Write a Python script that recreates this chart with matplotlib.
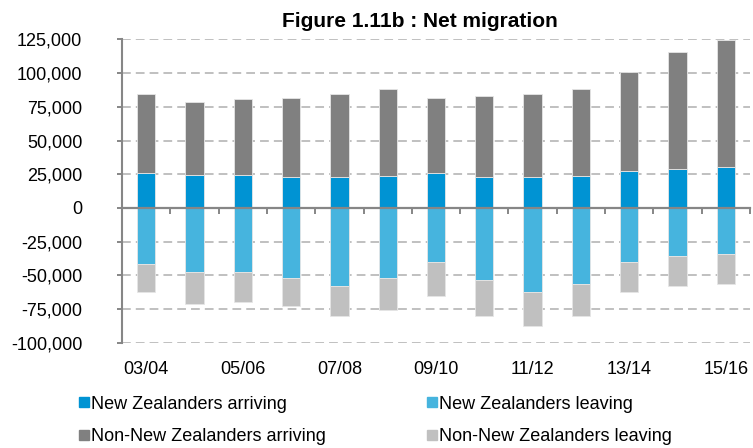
import numpy as np
import matplotlib
matplotlib.use("Agg")
import matplotlib.pyplot as plt
from matplotlib.lines import Line2D
from matplotlib.ticker import FuncFormatter

plt.rcParams["font.family"] = ["Liberation Sans", "DejaVu Sans"]

years = ["03/04", "04/05", "05/06", "06/07", "07/08", "08/09", "09/10",
         "10/11", "11/12", "12/13", "13/14", "14/15", "15/16"]

# arrivals (positive) and departures (negative), people per year
nz_arriving = [25700, 24200, 24200, 22700, 22700, 24000, 25700,
               22700, 22700, 24000, 27200, 28600, 30100]
non_nz_arriving = [58700, 54500, 56300, 59000, 61700, 63900, 56000,
                   60500, 61700, 63900, 74000, 87200, 94600]
nz_leaving = [-41700, -47600, -47600, -52100, -58000, -52100, -40200,
              -53500, -62400, -56400, -40200, -35800, -34300]
non_nz_leaving = [-20700, -23700, -22200, -20700, -22200, -23700, -25200,
                  -26700, -25200, -23800, -22200, -22200, -22100]

labels = ["New Zealanders arriving", "New Zealanders leaving",
          "Non-New Zealanders arriving", "Non-New Zealanders leaving"]
colors = ["#0093D3", "#46B4DE", "#808080", "#C0C0C0"]
axis_grey = "#868686"

x = np.arange(len(years))
w = 0.38

fig = plt.figure(figsize=(7.53, 4.48), dpi=100)
ax = fig.add_axes([0.162, 0.235, 0.834, 0.677])

bar_kw = dict(width=w, edgecolor="#E6E6E6", linewidth=0.6, zorder=3)
ax.bar(x, nz_arriving, color=colors[0], **bar_kw)
ax.bar(x, non_nz_arriving, bottom=nz_arriving, color=colors[2], **bar_kw)
ax.bar(x, nz_leaving, color=colors[1], **bar_kw)
ax.bar(x, non_nz_leaving, bottom=nz_leaving, color=colors[3], **bar_kw)

ax.set_xlim(-0.5, len(years) - 0.5)
ax.set_ylim(-100000, 125000)
ax.set_yticks(np.arange(-100000, 125001, 25000))
ax.yaxis.set_major_formatter(FuncFormatter(lambda v, p: f"{v:,.0f}"))
ax.yaxis.grid(True, color="#C0C0C0", linewidth=1.4,
              linestyle=(0, (4.5, 2.6)), zorder=0)
ax.tick_params(axis="y", direction="out", length=3.6, width=1.4,
               color=axis_grey, pad=25, labelsize=13, labelcolor="black")

# category axis drawn along zero, ticks between the bars
for side in ["top", "right"]:
    ax.spines[side].set_visible(False)
ax.spines["left"].set_color(axis_grey)
ax.spines["left"].set_linewidth(1.5)
ax.spines["bottom"].set_position(("data", 0))
ax.spines["bottom"].set_color(axis_grey)
ax.spines["bottom"].set_linewidth(1.6)
ax.spines["bottom"].set_zorder(4)
ax.set_xticks(x + 0.5)
ax.tick_params(axis="x", direction="out", length=4, width=1.4,
               color=axis_grey, labelbottom=False)

for i in x[::2]:
    ax.text(i, -0.088, years[i], transform=ax.get_xaxis_transform(),
            ha="center", va="center", fontsize=13)

fig.text(0.558, 0.953, "Figure 1.11b : Net migration", ha="center",
         va="center", fontsize=15, fontweight="bold")

order = [0, 2, 1, 3]
handles = [Line2D([], [], marker="s", linestyle="", markersize=6.5,
                  color=colors[k]) for k in order]
fig.legend(handles, [labels[k] for k in order], ncol=2, frameon=False,
           loc="upper left", bbox_to_anchor=(0.105, 0.117),
           fontsize=13, handlelength=0.5, handletextpad=0.15,
           columnspacing=5.65, labelspacing=0.88, borderpad=0,
           borderaxespad=0)

fig.savefig("out.png", dpi=100)
